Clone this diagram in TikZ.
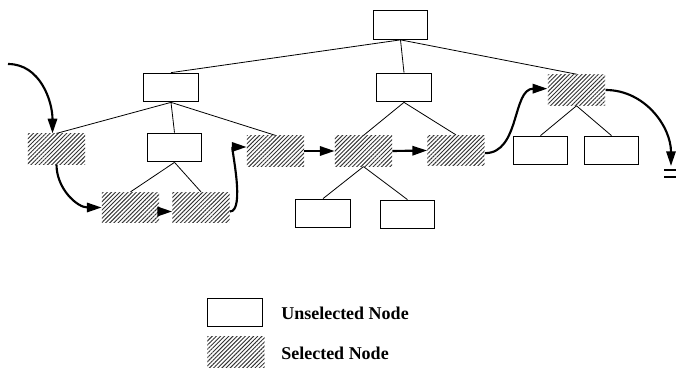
\documentclass[tikz,border=0pt]{standalone}
\usepackage{fontspec}
\setmainfont{Liberation Serif}
\usetikzlibrary{arrows.meta,patterns.meta}

\tikzset{
  unsel/.style={draw, line width=0.8pt, minimum width=41pt, minimum height=21.5pt, inner sep=0pt},
  sel/.style={minimum width=43pt, minimum height=23pt, inner sep=0pt,
    pattern={Lines[angle=45,distance=2.2pt,line width=0.7pt]}, pattern color=black!80},
  tree/.style={line width=0.6pt},
  walk/.style={line width=1.6pt, -{Triangle[length=11pt,width=7pt]}},
  legtext/.style={anchor=west, inner sep=0pt, font=\bfseries\fontsize{13.5}{16}\selectfont}
}

\begin{document}
\begin{tikzpicture}[x=0.75pt,y=-0.75pt]
\useasboundingbox (0,0) rectangle (676,370);

% tree nodes
\node[unsel] (root) at (400.5,25) {};

\node[unsel] (l1a) at (171,87.5) {};
\node[unsel] (l1b) at (404,87.5) {};
\node[sel]   (l1c) at (576.5,90) {};

\node[sel]   (l2a) at (56.5,149) {};
\node[unsel] (l2b) at (174.5,147.5) {};
\node[sel]   (l2c) at (275.5,151) {};
\node[sel]   (l2d) at (363.5,151) {};
\node[sel]   (l2e) at (456,150.5) {};
\node[unsel] (l2f) at (540.5,150.5) {};
\node[unsel] (l2g) at (611.5,150.5) {};

\node[sel]   (l3a) at (130.5,207.5) {};
\node[sel]   (l3b) at (201,207.5) {};
\node[unsel] (l3c) at (323,213.5) {};
\node[unsel] (l3d) at (407.5,214.5) {};

% tree edges
\foreach \p/\c in {root/l1a, root/l1b, root/l1c, l1a/l2a, l1a/l2b, l1a/l2c,
                   l2b/l3a, l2b/l3b, l1b/l2d, l1b/l2e, l2d/l3c, l2d/l3d,
                   l1c/l2f, l1c/l2g}
  \draw[tree] (\p.south) -- (\c.north);

% walk through the selected nodes
\coordinate (start) at (8,64);
\coordinate (exit) at (671,166);

\draw[walk] (start) to[out=0,in=90] ([xshift=-3pt]l2a.north);
\draw[walk] (l2a.south) to[out=-90,in=180] (l3a.west);
\draw[walk] ([yshift=-3pt]l3a.east) -- ([yshift=-3pt]l3b.west);
\draw[walk] ([yshift=-3pt]l3b.east) to[out=0,in=180,looseness=0.6] ([yshift=3pt]l2c.west);
\draw[walk] (l2c.east) -- (l2d.west);
\draw[walk] (l2d.east) -- (l2e.west);
\draw[walk] ([yshift=-2pt]l2e.east) to[out=0,in=180] ([yshift=1pt]l1c.west);
\draw[walk] (l1c.east) to[out=0,in=90] (exit);
\draw[line width=1.6pt] (664,170) -- (676,170) (664,177) -- (676,177);

% legend
\node[unsel] (keyu) at (235,312.5) {};
\node[legtext] (keyutext) at (281,313) {Unselected Node};
\node[sel] (keys) at (236,352) {};
\node[legtext] (keystext) at (281,353) {Selected Node};
\end{tikzpicture}
\end{document}
